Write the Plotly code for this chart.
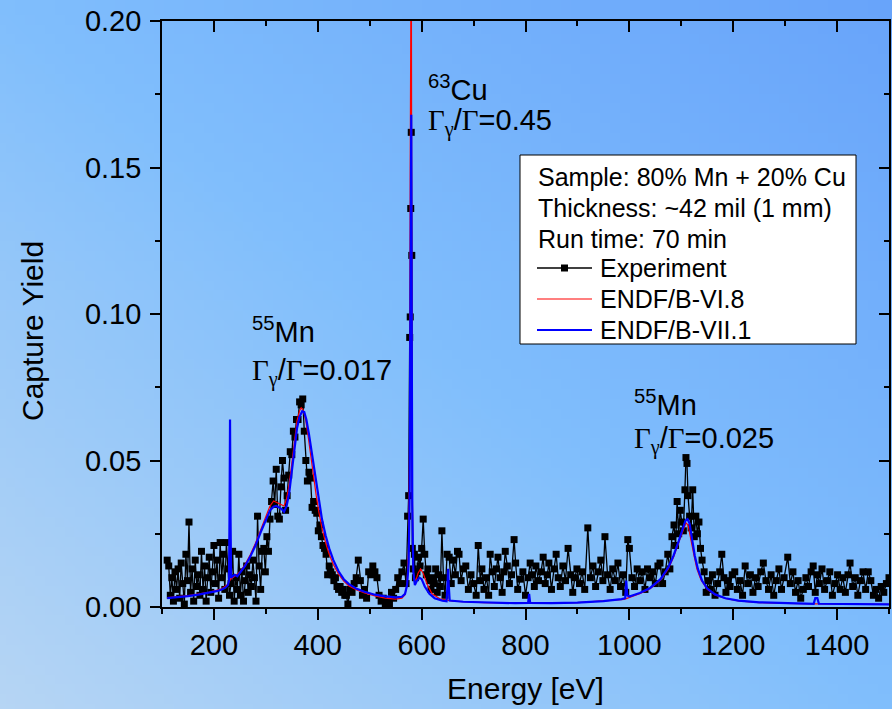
import base64, struct, zlib
import plotly.graph_objects as go

# ---------------- data ----------------
exp_energy_low = [110, 113, 116, 119, 122, 125, 128, 131, 134, 137, 140, 143, 146, 149, 152, 155, 158, 161, 164, 167,
                  170, 173, 176, 179, 182, 185, 188, 191, 194, 197, 200, 203, 206, 209, 212, 215, 218, 221, 224, 227, 230]
exp_yield_low = [0.016, 0.014, 0.004, 0.010, 0.002, 0.012, 0.006, 0.013, 0.003, 0.015, 0.008, 0.001, 0.018, 0.009, 0.029,
                 0.005, 0.013, 0.002, 0.016, 0.007, 0.011, 0.004, 0.019, 0.006, 0.014, 0.002, 0.010, 0.017, 0.005, 0.012,
                 0.021, 0.008, 0.016, 0.003, 0.022, 0.010, 0.018, 0.006, 0.022, 0.013, 0.004]

exp_energy_mn = [233, 236, 239, 242, 245, 248, 251, 254, 257, 260, 263, 266, 269, 272, 275, 278, 281, 284, 287, 290,
                 293, 296, 299, 302, 305, 308, 311, 314, 317, 320, 323, 326, 329, 332, 335, 338, 341, 344, 347, 350,
                 353, 356, 359, 362, 365, 368, 371, 374, 377, 380, 383, 386, 389, 392, 395, 398, 401, 404, 407, 410,
                 413, 416, 419, 422, 425, 428, 431, 434, 437, 440, 443, 446, 449, 452, 455, 458, 462, 466, 470, 474,
                 478, 482, 486, 490, 494, 498, 502, 506, 510, 514, 518, 522, 526, 530, 534, 538, 542, 546, 550, 554,
                 558, 562, 566]
exp_yield_mn = [0.008, 0.019, 0.002, 0.010, 0.006, 0.018, 0.004, 0.012, 0.002, 0.009, 0.014, 0.005, 0.011, 0.007, 0.016,
                0.010, 0.002, 0.031, 0.014, 0.006, 0.019, 0.020, 0.012, 0.024, 0.019, 0.030, 0.036, 0.043, 0.035, 0.047,
                0.031, 0.030, 0.041, 0.050, 0.044, 0.033, 0.038, 0.045, 0.053, 0.052, 0.060, 0.058, 0.064, 0.064, 0.070,
                0.069, 0.071, 0.060, 0.050, 0.043, 0.046, 0.044, 0.034, 0.036, 0.033, 0.032, 0.026, 0.028, 0.024, 0.021,
                0.020, 0.018, 0.011, 0.014, 0.012, 0.011, 0.009, 0.010, 0.007, 0.006, 0.007, 0.005, 0.006, 0.004, 0.004,
                0.001, 0.006, 0.005, 0.008, 0.010, 0.016, 0.009, 0.004, 0.006, 0.003, 0.012, 0.011, 0.014, 0.012, 0.010,
                0.004, 0.002, 0.003, 0.001, 0.002, 0.001, 0.005, 0.003, 0.006, 0.010, 0.008, 0.012, 0.015]

exp_energy_cu = [570, 573, 575, 577, 578, 579, 580, 581, 582, 584, 586, 588, 591, 594, 597, 600, 603, 606, 609, 612,
                 615, 618, 621, 624, 627, 630, 633, 636, 639, 642, 645, 649, 653, 657, 661, 665, 669, 672, 676, 680,
                 685, 690, 695, 700, 705, 709, 713, 716, 720, 725, 729, 732, 736, 740, 744, 747, 751, 755, 758, 761,
                 765, 769, 773, 778, 781, 785, 790, 795, 800, 805, 809, 813, 817, 820, 825, 830, 834, 838, 842, 845,
                 850, 855, 859, 863, 867, 872, 877, 882, 887, 891, 895, 899, 904, 909, 914, 920, 925, 930, 935, 940,
                 945, 949, 953, 958, 963, 968, 973, 978, 983, 988, 993, 997, 1000, 1005, 1010, 1015, 1020, 1025, 1030,
                 1035, 1040, 1045, 1050, 1055, 1059, 1064, 1069, 1074, 1078]
exp_yield_cu = [0.008, 0.031, 0.038, 0.092, 0.099, 0.136, 0.162, 0.120, 0.020, 0.013, 0.018, 0.010, 0.012, 0.017, 0.014,
                0.020, 0.030, 0.018, 0.011, 0.013, 0.009, 0.006, 0.010, 0.008, 0.013, 0.005, 0.011, 0.007, 0.026, 0.010,
                0.004, 0.018, 0.017, 0.008, 0.016, 0.011, 0.019, 0.018, 0.009, 0.013, 0.014, 0.006, 0.011, 0.008, 0.004,
                0.021, 0.009, 0.013, 0.006, 0.010, 0.004, 0.018, 0.012, 0.007, 0.013, 0.017, 0.010, 0.005, 0.012, 0.019,
                0.014, 0.008, 0.011, 0.023, 0.015, 0.006, 0.0095, 0.012, 0.004, 0.010, 0.015, 0.011, 0.007, 0.014, 0.009,
                0.012, 0.017, 0.008, 0.011, 0.015, 0.006, 0.013, 0.018, 0.010, 0.007, 0.014, 0.009, 0.020, 0.011, 0.005,
                0.010, 0.013, 0.008, 0.012, 0.006, 0.027, 0.010, 0.014, 0.007, 0.012, 0.016, 0.009, 0.024, 0.011, 0.006,
                0.013, 0.009, 0.015, 0.007, 0.011, 0.005, 0.023, 0.020, 0.010, 0.007, 0.013, 0.009, 0.012, 0.006, 0.013,
                0.010, 0.012, 0.008, 0.014, 0.015, 0.008, 0.012, 0.018, 0.013]

exp_energy_high = [1082, 1086, 1089, 1092, 1095, 1098, 1101, 1104, 1107, 1109, 1111, 1113, 1116, 1119, 1122, 1125, 1128,
                   1131, 1134, 1137, 1140, 1144, 1148, 1152, 1156, 1160, 1165, 1170, 1174, 1178, 1182, 1186, 1190, 1194,
                   1198, 1203, 1208, 1213, 1218, 1223, 1228, 1233, 1238, 1243, 1248, 1253, 1258, 1263, 1268, 1273, 1278,
                   1283, 1288, 1293, 1298, 1305, 1310, 1315, 1320, 1325, 1330, 1335, 1340, 1345, 1350, 1354, 1358, 1362,
                   1366, 1371, 1376, 1381, 1386, 1391, 1396, 1401, 1406, 1411, 1416, 1421, 1425, 1430, 1435, 1440, 1445,
                   1450, 1455, 1460, 1465, 1470, 1475, 1480, 1485, 1490, 1495, 1500]
exp_yield_high = [0.024, 0.028, 0.021, 0.036, 0.025, 0.033, 0.029, 0.026, 0.040, 0.051, 0.049, 0.038, 0.031, 0.027, 0.040,
                  0.024, 0.031, 0.025, 0.029, 0.020, 0.016, 0.012, 0.005, 0.009, 0.006, 0.011, 0.004, 0.008, 0.012, 0.018,
                  0.010, 0.005, 0.009, 0.007, 0.011, 0.012, 0.006, 0.009, 0.004, 0.014, 0.008, 0.011, 0.005, 0.010, 0.007,
                  0.012, 0.015, 0.009, 0.006, 0.011, 0.004, 0.009, 0.013, 0.006, 0.010, 0.017, 0.008, 0.012, 0.005, 0.009,
                  0.003, 0.006, 0.010, 0.007, 0.012, 0.014, 0.005, 0.011, 0.008, 0.013, 0.006, 0.009, 0.012, 0.004, 0.008,
                  0.011, 0.006, 0.010, 0.005, 0.011, 0.015, 0.007, 0.010, 0.004, 0.009, 0.012, 0.006, 0.012, 0.009, 0.004,
                  0.006, 0.003, 0.007, 0.005, 0.008, 0.010]

vii1_energy = [110, 130, 150, 170, 190, 205, 215, 222, 227, 229, 230, 231, 232, 233, 236, 240, 245, 250, 260, 270,
               280, 290, 300, 308, 315, 320, 325, 330, 335, 340, 345, 350, 355, 360, 365, 370, 374, 378, 383, 388,
               393, 398, 403, 408, 415, 422, 430, 440, 450, 460, 475, 490, 510, 530, 550, 562, 568, 572, 575, 577,
               578, 579, 580, 581, 582, 584, 587, 591, 596, 600, 606, 615, 625, 640, 648, 650, 651, 652, 654, 680,
               720, 780, 805, 807, 809, 850, 900, 950, 985, 992, 994, 996, 1000, 1020, 1040, 1060, 1075, 1085, 1095,
               1103, 1108, 1112, 1116, 1120, 1126, 1132, 1140, 1150, 1165, 1185, 1210, 1250, 1300, 1355, 1358, 1362,
               1365, 1420, 1500]
vii1_yield = [0.0030, 0.0033, 0.0037, 0.0042, 0.0048, 0.0054, 0.0060, 0.0066, 0.0075, 0.0090, 0.030, 0.064, 0.030,
              0.010, 0.0105, 0.0110, 0.0105, 0.0118, 0.0140, 0.0172, 0.0210, 0.0255, 0.0300, 0.0330, 0.0342, 0.0345,
              0.0340, 0.0335, 0.0325, 0.0345, 0.0390, 0.0460, 0.0540, 0.0610, 0.0650, 0.0668, 0.0665, 0.0640, 0.0590,
              0.0530, 0.0470, 0.0410, 0.0350, 0.0300, 0.0245, 0.0200, 0.0160, 0.0122, 0.0095, 0.0078, 0.0062, 0.0052,
              0.0042, 0.0036, 0.0033, 0.0035, 0.0045, 0.0075, 0.0150, 0.040, 0.090, 0.168, 0.168, 0.090, 0.035, 0.012,
              0.0075, 0.0090, 0.0100, 0.0095, 0.0070, 0.0045, 0.0030, 0.0022, 0.0020, 0.0080, 0.0130, 0.0080, 0.0022,
              0.0018, 0.0015, 0.0013, 0.0014, 0.0045, 0.0014, 0.0013, 0.0015, 0.0020, 0.0027, 0.0030, 0.0090, 0.0040,
              0.0036, 0.0048, 0.0065, 0.0095, 0.0135, 0.0175, 0.0225, 0.0270, 0.0295, 0.0300, 0.0285, 0.0240, 0.0175,
              0.0130, 0.0090, 0.0063, 0.0043, 0.0030, 0.0022, 0.0016, 0.0013, 0.0011, 0.0030, 0.0030, 0.0011, 0.0010,
              0.0009]

vi8_energy = [110, 150, 190, 215, 227, 232, 240, 250, 260, 270, 280, 290, 300, 308, 315, 320, 325, 330, 335, 340,
              345, 350, 355, 360, 365, 368, 372, 377, 382, 387, 392, 397, 402, 408, 415, 422, 430, 440, 450, 460,
              475, 490, 510, 530, 550, 562, 568, 572, 575, 577, 578, 579, 580, 581, 582, 584, 588, 593, 598, 603,
              610, 620, 635, 660, 720, 800, 900, 990, 1020, 1040, 1060, 1075, 1085, 1095, 1103, 1109, 1113, 1118,
              1124, 1130, 1138, 1150, 1165, 1185, 1210, 1250, 1300, 1400, 1500]
vi8_yield = [0.0032, 0.0039, 0.0050, 0.0062, 0.0078, 0.0095, 0.0105, 0.0120, 0.0145, 0.0178, 0.0218, 0.0265, 0.0310,
             0.0345, 0.0362, 0.0358, 0.0352, 0.0350, 0.0345, 0.0370, 0.0420, 0.0490, 0.0570, 0.0635, 0.0670, 0.0680,
             0.0672, 0.0635, 0.0575, 0.0505, 0.0440, 0.0380, 0.0325, 0.0270, 0.0220, 0.0180, 0.0145, 0.0112, 0.0088,
             0.0072, 0.0058, 0.0048, 0.0038, 0.0030, 0.0027, 0.0030, 0.0042, 0.0080, 0.0200, 0.060, 0.150, 0.240,
             0.240, 0.120, 0.040, 0.012, 0.0085, 0.0115, 0.0130, 0.0115, 0.0080, 0.0045, 0.0028, 0.0020, 0.0015,
             0.0013, 0.0015, 0.0026, 0.0045, 0.0062, 0.0092, 0.0130, 0.0170, 0.0220, 0.0262, 0.0287, 0.0280, 0.0240,
             0.0180, 0.0130, 0.0092, 0.0060, 0.0041, 0.0029, 0.0021, 0.0015, 0.0012, 0.0010, 0.0009]

x_tick_vals = [200, 400, 600, 800, 1000, 1200, 1400]
y_tick_vals = [0.00, 0.05, 0.10, 0.15, 0.20]

legend_info = ["Sample: 80% Mn + 20% Cu", "Thickness: ~42 mil (1 mm)", "Run time: 70 min"]
series_names = ["Experiment", "ENDF/B-VI.8", "ENDF/B-VII.1"]
series_colors = ["black", "#ff0000", "#0000ff"]
series_widths = [1.3, 1.2, 2.2]

exp_energy = exp_energy_low + exp_energy_mn + exp_energy_cu + exp_energy_high
exp_yield = exp_yield_low + exp_yield_mn + exp_yield_cu + exp_yield_high

# ---------------- background gradient image ----------------
def gradient_png(w, h):
    stops = [(0.0, (182, 213, 244)), (0.5, (128, 190, 252)), (1.0, (104, 164, 250))]
    rows = []
    for j in range(h):
        row = bytearray([0])
        for i in range(w):
            t = (i / (w - 1) + (1 - j / (h - 1))) / 2
            for k in range(len(stops) - 1):
                t0, c0 = stops[k]
                t1, c1 = stops[k + 1]
                if t <= t1:
                    f = (t - t0) / (t1 - t0)
                    row += bytes(int(round(c0[m] + (c1[m] - c0[m]) * f)) for m in range(3))
                    break
        rows.append(bytes(row))
    raw = b"".join(rows)

    def chunk(tag, data):
        c = struct.pack(">I", len(data)) + tag + data
        return c + struct.pack(">I", zlib.crc32(tag + data) & 0xFFFFFFFF)

    png = b"\x89PNG\r\n\x1a\n" + chunk(b"IHDR", struct.pack(">IIBBBBB", w, h, 8, 2, 0, 0, 0))
    png += chunk(b"IDAT", zlib.compress(raw, 9)) + chunk(b"IEND", b"")
    return "data:image/png;base64," + base64.b64encode(png).decode()

W, H = 892, 709
ML, MR, MT, MB = 162, 3, 21, 102
PW, PH = W - ML - MR, H - MT - MB

def px(p):  # pixel x -> paper x
    return (p - ML) / PW

def py(p):  # pixel y -> paper y
    return (H - MB - p) / PH

FONT = "Liberation Sans, Arial, sans-serif"
SERIF = "Liberation Serif"

fig = go.Figure()
fig.add_trace(go.Scatter(x=exp_energy, y=exp_yield, mode="lines+markers", name=series_names[0],
                         line=dict(color=series_colors[0], width=series_widths[0]),
                         marker=dict(symbol="square", size=7, color="black")))
fig.add_trace(go.Scatter(x=vi8_energy, y=vi8_yield, mode="lines", name=series_names[1],
                         line=dict(color=series_colors[1], width=series_widths[1])))
fig.add_trace(go.Scatter(x=vii1_energy, y=vii1_yield, mode="lines", name=series_names[2],
                         line=dict(color=series_colors[2], width=series_widths[2])))
fig.add_trace(go.Scatter(x=[None], y=[None], xaxis="x2", yaxis="y2", showlegend=False, hoverinfo="skip"))

axis_common = dict(showgrid=False, zeroline=False, showline=True, linecolor="black", linewidth=1.6,
                   tickcolor="black", tickwidth=1.6)

fig.update_layout(
    width=W, height=H,
    margin=dict(l=ML, r=MR, t=MT, b=MB),
    paper_bgcolor="#80bcfc", plot_bgcolor="rgba(0,0,0,0)",
    font=dict(family=FONT, color="black"),
    showlegend=False,
    xaxis=dict(range=[100, 1500], tickvals=x_tick_vals, ticks="outside", ticklen=11,
               tickfont=dict(size=29), minor=dict(dtick=100, tick0=0, ticks="outside", ticklen=5,
                                                  tickcolor="black", tickwidth=1.6),
               title=dict(text="Energy [eV]", font=dict(size=30), standoff=18), **axis_common),
    yaxis=dict(range=[0, 0.2], tickvals=y_tick_vals, tickformat=".2f", ticks="outside", ticklen=10,
               tickfont=dict(size=29), ticklabelstandoff=3,
               minor=dict(dtick=0.025, tick0=0, ticks="outside", ticklen=5,
                          tickcolor="black", tickwidth=1.6), **axis_common),
    xaxis2=dict(range=[100, 1500], overlaying="x", side="top", tickvals=x_tick_vals, ticks="inside",
                ticklen=11, showticklabels=False,
                minor=dict(dtick=100, tick0=0, ticks="inside", ticklen=5, tickcolor="black", tickwidth=1.6),
                **axis_common),
    yaxis2=dict(range=[0, 0.2], overlaying="y", side="right", tickvals=y_tick_vals, ticks="inside",
                ticklen=10, showticklabels=False,
                minor=dict(dtick=0.025, tick0=0, ticks="inside", ticklen=5, tickcolor="black", tickwidth=1.6),
                **axis_common),
)

fig.add_layout_image(dict(source=gradient_png(90, 72), xref="paper", yref="paper",
                          x=-ML / PW, y=1 + MT / PH, sizex=W / PW, sizey=H / PH,
                          xanchor="left", yanchor="top", sizing="stretch", layer="below"))

# y axis title
fig.add_annotation(x=px(32), y=py(331), xref="paper", yref="paper", text="Capture Yield", textangle=-90,
                   showarrow=False, xanchor="center", yanchor="middle", font=dict(size=30, family=FONT))

# ---------------- legend box ----------------
fig.add_shape(type="rect", xref="paper", yref="paper", x0=px(520), x1=px(856), y0=py(344), y1=py(155),
              fillcolor="white", line=dict(color="black", width=1), layer="above")
row_y = [177, 208, 239, 268, 299, 330]
for i, txt in enumerate(legend_info):
    fig.add_annotation(x=px(536), y=py(row_y[i]), xref="paper", yref="paper", text=txt, showarrow=False,
                       xanchor="left", yanchor="middle", font=dict(size=25, family=FONT))
for i, name in enumerate(series_names):
    yy = py(row_y[3 + i])
    fig.add_shape(type="line", xref="paper", yref="paper", x0=px(537), x1=px(592), y0=yy, y1=yy,
                  line=dict(color=series_colors[i], width=series_widths[i] if i else 1.3), layer="above")
    fig.add_annotation(x=px(598), y=yy, xref="paper", yref="paper", text=name, showarrow=False,
                       xanchor="left", yanchor="middle", font=dict(size=25, family=FONT))
fig.add_shape(type="rect", xref="paper", yref="paper", x0=px(561), x1=px(568),
              y0=py(row_y[3] + 3.5), y1=py(row_y[3] - 3.5), fillcolor="black", line=dict(width=0),
              layer="above")

def gamma_text(val):
    g = f"<span style='font-family:{SERIF}'>Γ</span>"
    return f"{g}<sub><span style='font-family:{SERIF}'>γ</span></sub>/{g}={val}"

annots = [
    (269, 0.0944, "<sup>55</sup>Mn"),
    (269, 0.0801, gamma_text("0.017")),
    (608, 0.1773, "<sup>63</sup>Cu"),
    (608, 0.1654, gamma_text("0.45")),
    (1005, 0.0696, "<sup>55</sup>Mn"),
    (1005, 0.0569, gamma_text("0.025")),
]
for ax_, ay_, txt in annots:
    fig.add_annotation(x=ax_, y=ay_, xref="x", yref="y", text=txt, showarrow=False,
                       xanchor="left", yanchor="middle", font=dict(size=29, family=FONT))

fig.write_html("out.html")
